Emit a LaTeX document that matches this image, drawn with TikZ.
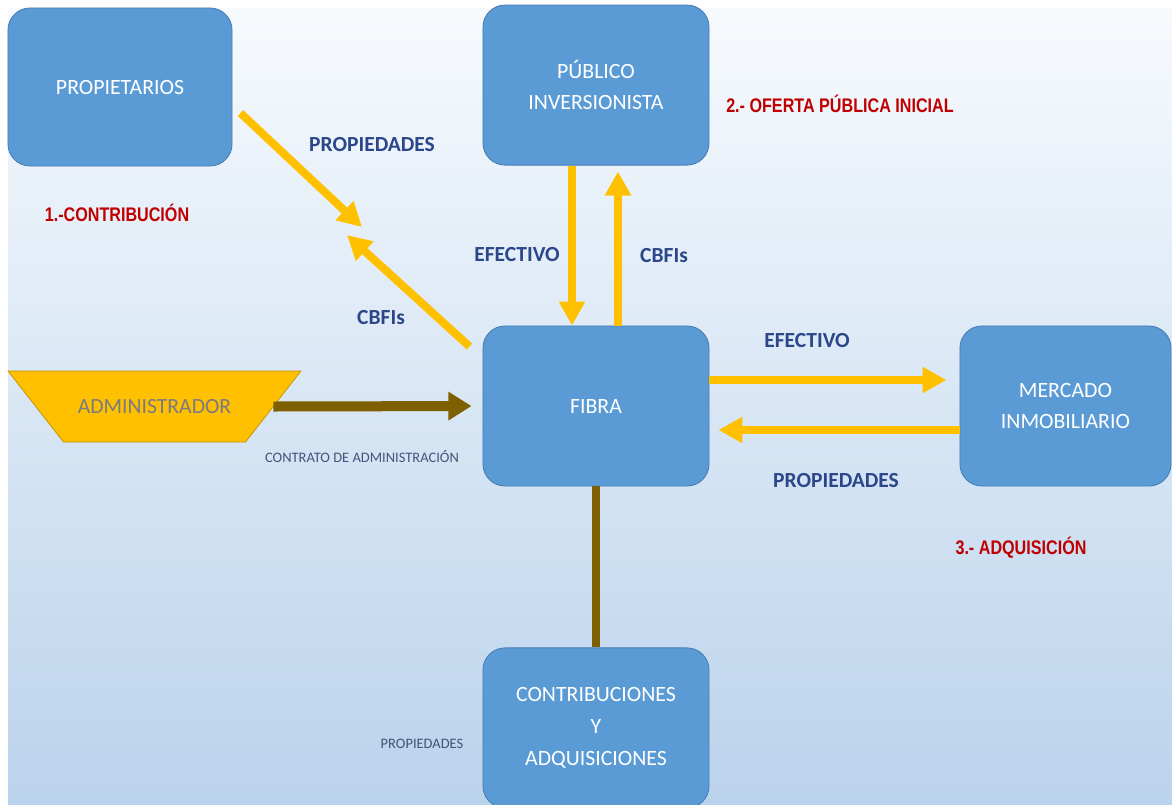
\documentclass[tikz,border=0pt]{standalone}
\usepackage{fontspec}
\setmainfont{Carlito}
\newfontfamily\narrowfont[FakeStretch=0.82]{Liberation Sans}
\usetikzlibrary{arrows.meta,positioning}

\definecolor{boxblue}{RGB}{91,155,213}
\definecolor{boxedge}{RGB}{72,125,180}
\definecolor{gold}{RGB}{255,192,0}
\definecolor{goldedge}{RGB}{191,144,0}
\definecolor{brownline}{RGB}{127,96,0}
\definecolor{labelblue}{RGB}{44,70,138}
\definecolor{stepred}{RGB}{192,0,0}
\definecolor{smallblue}{RGB}{68,84,120}
\definecolor{admintext}{RGB}{122,122,132}
\definecolor{bgtop}{RGB}{247,250,253}
\definecolor{bgbottom}{RGB}{186,211,236}

\begin{document}
\begin{tikzpicture}[
    x=0.025cm, y=0.025cm,
    box/.style={
        rectangle,
        draw=boxedge,
        line width=0.6pt,
        fill=boxblue,
        text=white,
        minimum width=5.65cm,
        minimum height=4cm,
        align=center,
        rounded corners=0.55cm,
        font=\fontsize{15.5}{22.5}\selectfont
    },
    adminblock/.style={
        rectangle,
        minimum width=5.925cm,
        minimum height=1.775cm,
        inner sep=0pt,
        text=admintext,
        font=\fontsize{15.4}{18}\selectfont
    },
    flowlabel/.style={text=labelblue, font=\bfseries\fontsize{15.3}{18}\selectfont},
    steplabel/.style={text=stepred, font=\narrowfont\bfseries\fontsize{14}{17}\selectfont},
    smalllabel/.style={text=smallblue, font=\fontsize{10.3}{12}\selectfont},
    flow/.style={draw=gold, line width=0.2cm, -{Triangle[length=0.6cm,width=0.62cm]}},
    admin line/.style={draw=brownline, line width=0.25cm, -{Triangle[length=0.58cm,width=0.68cm]}}
]

% Background
\useasboundingbox (0,0) rectangle (1172,-804);
\clip (0,0) rectangle (1172,-804);
\fill [white] (0,0) rectangle (1172,-804);
\shade [top color=bgtop, bottom color=bgbottom] (8,-8) rectangle (1172,-804);

% Main blocks
\node [box] (fibra) at (596,-406) {FIBRA};
\node [box, above=4cm of fibra] (publico) {PÚBLICO\\INVERSIONISTA};
\node [box, below=4.025cm of fibra] (contrib) {CONTRIBUCIONES\\Y\\ADQUISICIONES};
\node [box, minimum width=5.275cm, right=6.25cm of fibra] (mercado) {MERCADO\\INMOBILIARIO};
\node [box, minimum width=5.6cm, minimum height=3.95cm] (prop) at (120,-87) {PROPIETARIOS};

% Administrador (inverted trapezoid)
\coordinate (adminc) at (154.5,-406.5);
\filldraw [fill=gold, draw=goldedge, line width=0.5pt]
    ([shift={(-146.5,35.5)}]adminc) -- ([shift={(146.5,35.5)}]adminc)
    -- ([shift={(91,-35.5)}]adminc) -- ([shift={(-91,-35.5)}]adminc) -- cycle;
\node [adminblock] (admin) at (adminc) {ADMINISTRADOR};

% 1.- Contribucion
\coordinate (propTip) at (362,-227);
\coordinate (cbfiTip) at (347,-235);
\draw [flow] ([xshift=0.2cm,yshift=-0.65cm]prop.east) -- (propTip);
\draw [flow] ([xshift=-0.325cm,yshift=-0.525cm]fibra.north west) -- (cbfiTip);

% 2.- Oferta publica
\draw [flow] ([xshift=-0.6cm]publico.south) -- ([xshift=-0.6cm]fibra.north);
\draw [flow, shorten >=0.15cm] ([xshift=0.55cm]fibra.north) -- ([xshift=0.55cm]publico.south);

% 3.- Adquisicion
\draw [flow, shorten >=0.325cm] ([yshift=0.65cm]fibra.east) -- ([yshift=0.65cm]mercado.west);
\draw [flow, shorten >=0.225cm] ([yshift=-0.6cm]mercado.west) -- ([yshift=-0.6cm]fibra.east);

% Administrador
\draw [admin line, shorten >=0.275cm] (admin.east) -- (fibra.west);
\draw [draw=brownline, line width=0.2cm] (fibra.south) -- (contrib.north);

% Labels
\node [flowlabel] (propLabel) at (372,-145) {PROPIEDADES};
\node [flowlabel] (cbfiLabel) at (381,-318) {CBFIs};
\node [flowlabel] (pubCash) at (517,-255) {EFECTIVO};
\node [flowlabel] (pubCbfi) at (664,-256) {CBFIs};
\node [flowlabel] (mktCash) at (807,-341) {EFECTIVO};
\node [flowlabel] (mktProp) at (836,-481) {PROPIEDADES};
\node [steplabel] (stepOne) at (117,-213) {1.-CONTRIBUCIÓN};
\node [steplabel] (stepTwo) at (840,-104) {2.- OFERTA PÚBLICA INICIAL};
\node [steplabel] (stepThree) at (1021,-548) {3.- ADQUISICIÓN};
\node [smalllabel] (contract) at (362,-456) {CONTRATO DE ADMINISTRACIÓN};
\node [smalllabel] (contribProp) at (422,-744) {PROPIEDADES};

\end{tikzpicture}
\end{document}
